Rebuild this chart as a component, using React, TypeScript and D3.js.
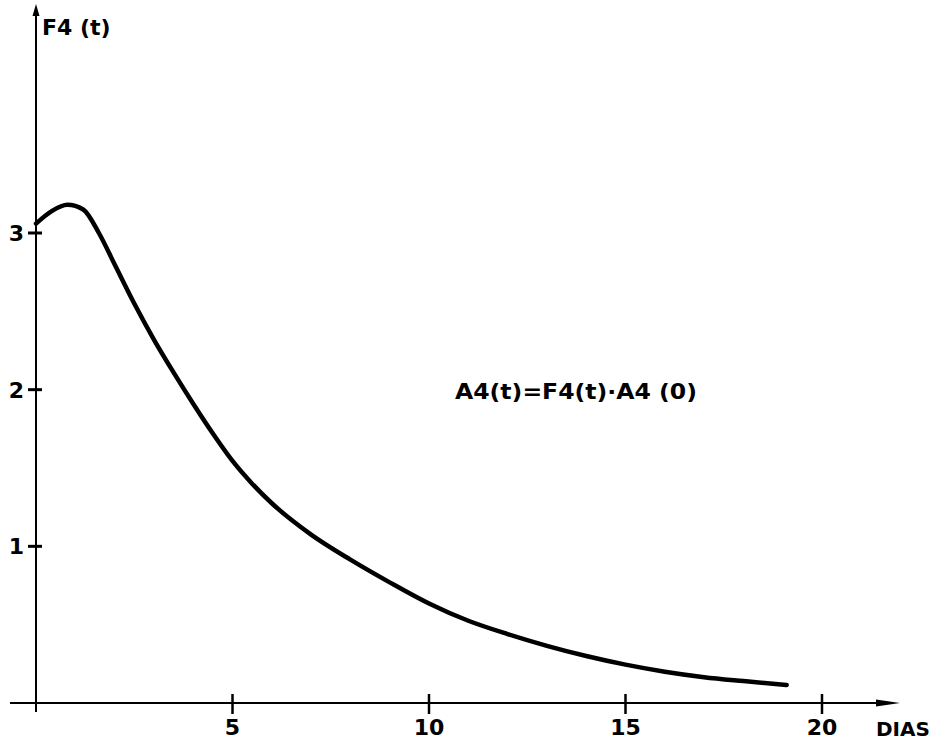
import React, { useEffect, useRef } from 'react';
import * as d3 from 'd3';

// curve (t in days, F4 value)
const days = [0, 0.4, 0.8, 1.2, 1.6, 2.0, 2.5, 3, 3.5, 4, 4.5, 5, 5.5, 6, 7, 8, 9, 10, 11, 12, 13, 14, 15, 16, 17, 18, 19.1];
const f4 = [3.06, 3.14, 3.18, 3.15, 3.0, 2.8, 2.55, 2.32, 2.11, 1.91, 1.72, 1.545, 1.4, 1.275, 1.075, 0.915, 0.77, 0.635, 0.525, 0.44, 0.365, 0.3, 0.245, 0.2, 0.165, 0.14, 0.115];

const xTicks = [5, 10, 15, 20];
const yTicks = [1, 2, 3];

const App = () => {
  const ref = useRef<SVGSVGElement>(null);

  useEffect(() => {
    const svg = d3.select(ref.current);
    svg.selectAll('*').remove();

    const font = '"DejaVu Sans", sans-serif';

    // scales
    const x = d3.scaleLinear().domain([0, 20]).range([36, 822]);
    const y = d3.scaleLinear().domain([0, 3]).range([703, 233]);

    // y axis + arrow
    svg.append('line')
      .attr('x1', x(0)).attr('x2', x(0))
      .attr('y1', 712).attr('y2', 10)
      .attr('stroke', '#000').attr('stroke-width', 2);
    svg.append('path')
      .attr('d', `M${x(0)},4 L${x(0) + 3.5},16 L${x(0) - 3.5},16 Z`)
      .attr('fill', '#000');

    // x axis + arrow
    svg.append('line')
      .attr('x1', 10).attr('x2', 885)
      .attr('y1', y(0)).attr('y2', y(0))
      .attr('stroke', '#000').attr('stroke-width', 2);
    svg.append('path')
      .attr('d', `M900,${y(0)} L876,${y(0) - 3.5} L876,${y(0) + 3.5} Z`)
      .attr('fill', '#000');

    // x ticks
    const xt = svg.append('g');
    xt.selectAll('line')
      .data(xTicks)
      .enter().append('line')
      .attr('x1', d => x(d)).attr('x2', d => x(d))
      .attr('y1', y(0) - 9).attr('y2', y(0) + 11)
      .attr('stroke', '#000').attr('stroke-width', 2.5);
    xt.selectAll('text')
      .data(xTicks)
      .enter().append('text')
      .attr('x', d => x(d)).attr('y', 735)
      .attr('text-anchor', 'middle')
      .attr('font-family', font).attr('font-weight', 'bold').attr('font-size', 22)
      .text(d => d);

    // y ticks
    const yt = svg.append('g');
    yt.selectAll('line')
      .data(yTicks)
      .enter().append('line')
      .attr('x1', 28).attr('x2', 42)
      .attr('y1', d => y(d)).attr('y2', d => y(d))
      .attr('stroke', '#000').attr('stroke-width', 3);
    yt.selectAll('text')
      .data(yTicks)
      .enter().append('text')
      .attr('x', 24).attr('y', d => y(d) + 8)
      .attr('text-anchor', 'end')
      .attr('font-family', font).attr('font-weight', 'bold').attr('font-size', 22)
      .text(d => d);

    // axis titles
    svg.append('text')
      .attr('x', 42).attr('y', 35)
      .attr('font-family', font).attr('font-weight', 'bold').attr('font-size', 22)
      .text('F4 (t)');
    svg.append('text')
      .attr('x', 876).attr('y', 736)
      .attr('font-family', font).attr('font-weight', 'bold').attr('font-size', 20)
      .text('DIAS');

    // formula
    svg.append('text')
      .attr('x', 455).attr('y', 399)
      .attr('font-family', font).attr('font-weight', 'bold').attr('font-size', 22)
      .attr('textLength', 242)
      .attr('lengthAdjust', 'spacingAndGlyphs')
      .text('A4(t)=F4(t)·A4 (0)');

    // curve
    const line = d3.line<number>()
      .x((d, i) => x(days[i]))
      .y(d => y(d))
      .curve(d3.curveMonotoneX);

    svg.append('path')
      .datum(f4)
      .attr('d', line)
      .attr('fill', 'none')
      .attr('stroke', '#000')
      .attr('stroke-width', 4.5)
      .attr('stroke-linecap', 'round');
  }, []);

  return (
    <svg
      ref={ref}
      width={938}
      height={741}
      style={{ position: 'absolute', left: 0, top: 0, background: '#fff' }}
    />
  );
};

export default App;
